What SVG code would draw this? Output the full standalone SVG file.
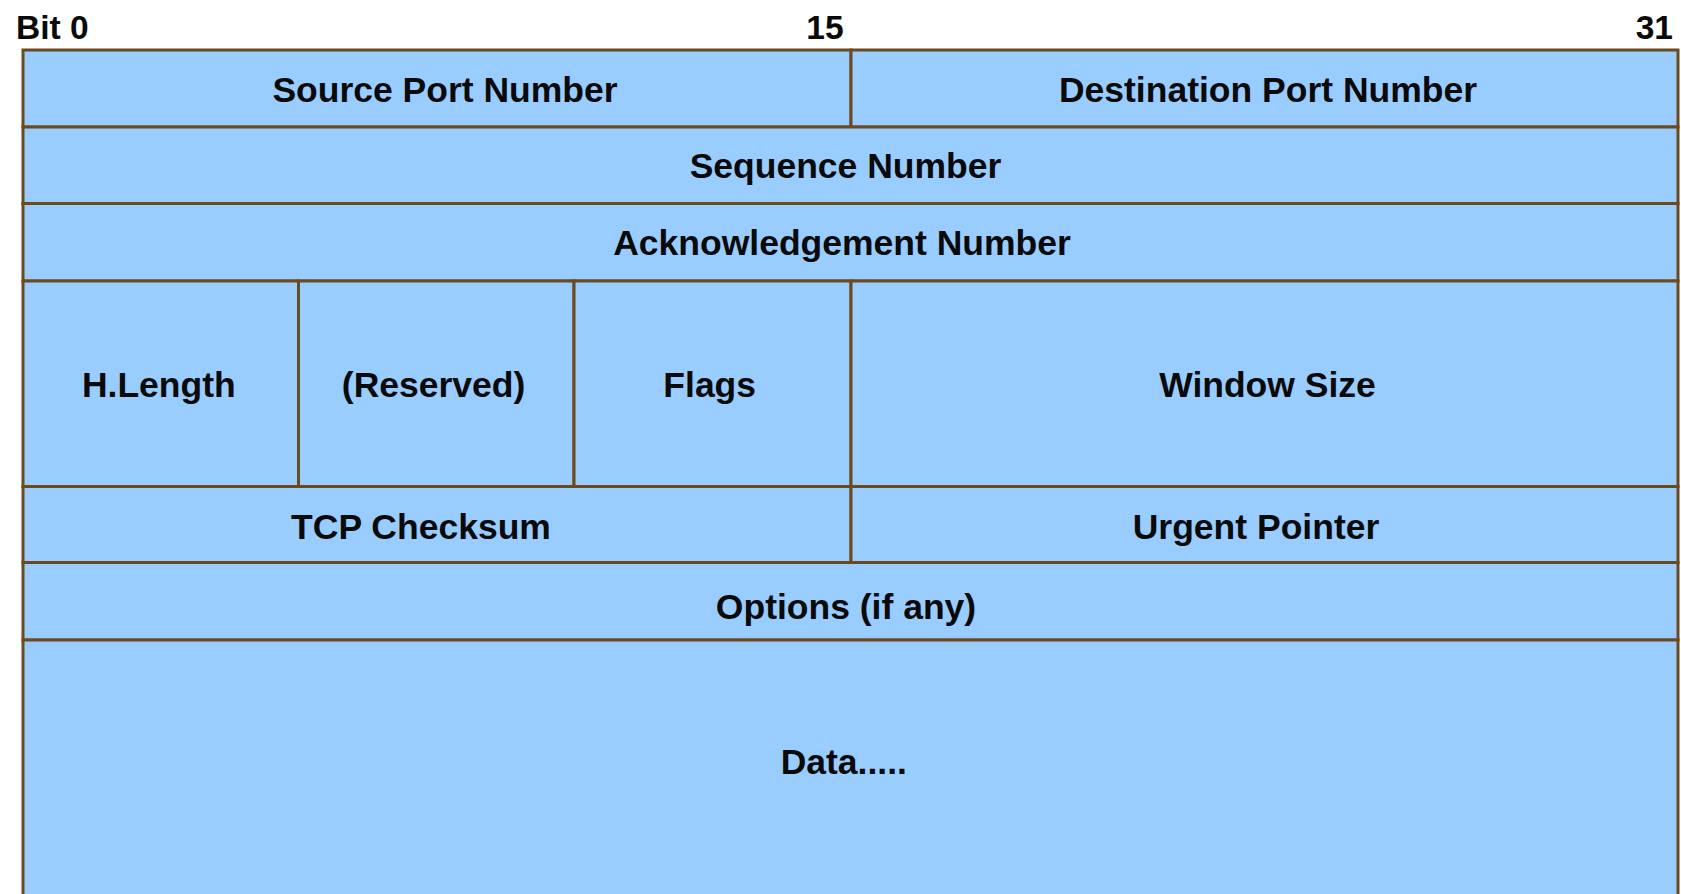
<svg xmlns="http://www.w3.org/2000/svg" width="1681" height="894" viewBox="0 0 1681 894">
  <style>
    .cell { fill: #99ccff; stroke: #6b4a1f; stroke-width: 3; }
    .lbl { font-family: "Liberation Sans", Arial, sans-serif; font-weight: bold; font-size: 35.5px; fill: #0a0a0a; text-anchor: middle; }
    .bit { font-family: "Liberation Sans", Arial, sans-serif; font-weight: bold; font-size: 33.5px; fill: #0a0a0a; }
  </style>
  <rect width="1681" height="894" fill="#ffffff"/>

  <!-- bit ruler -->
  <g id="ruler">
    <text class="bit" x="16" y="39">Bit 0</text>
    <text class="bit" x="825" y="39" text-anchor="middle">15</text>
    <text class="bit" x="1673" y="39" text-anchor="end">31</text>
  </g>

  <!-- TCP header fields -->
  <g id="source-port">
    <rect class="cell" x="23" y="50" width="828" height="77"/>
    <text class="lbl" x="445" y="102">Source Port Number</text>
  </g>
  <g id="destination-port">
    <rect class="cell" x="851" y="50" width="827" height="77"/>
    <text class="lbl" x="1268" y="102">Destination Port Number</text>
  </g>
  <g id="sequence-number">
    <rect class="cell" x="23" y="127" width="1655" height="76.5"/>
    <text class="lbl" x="845.5" y="177.5">Sequence Number</text>
  </g>
  <g id="ack-number">
    <rect class="cell" x="23" y="203.5" width="1655" height="77.5"/>
    <text class="lbl" x="842" y="254.5">Acknowledgement Number</text>
  </g>
  <g id="header-length">
    <rect class="cell" x="23" y="281" width="275.5" height="205.5"/>
    <text class="lbl" x="158.8" y="396.6">H.Length</text>
  </g>
  <g id="reserved">
    <rect class="cell" x="298.5" y="281" width="275.5" height="205.5"/>
    <text class="lbl" x="433.6" y="396.6">(Reserved)</text>
  </g>
  <g id="flags">
    <rect class="cell" x="574" y="281" width="277" height="205.5"/>
    <text class="lbl" x="709.7" y="396.6">Flags</text>
  </g>
  <g id="window-size">
    <rect class="cell" x="851" y="281" width="827" height="205.5"/>
    <text class="lbl" x="1267.5" y="397">Window Size</text>
  </g>
  <g id="checksum">
    <rect class="cell" x="23" y="486.5" width="828" height="76"/>
    <text class="lbl" x="421" y="538.5">TCP Checksum</text>
  </g>
  <g id="urgent-pointer">
    <rect class="cell" x="851" y="486.5" width="827" height="76"/>
    <text class="lbl" x="1256" y="538.5">Urgent Pointer</text>
  </g>
  <g id="options">
    <rect class="cell" x="23" y="562.5" width="1655" height="77.5"/>
    <text class="lbl" x="846" y="619">Options (if any)</text>
  </g>
  <g id="data">
    <rect class="cell" x="23" y="640" width="1655" height="280"/>
    <text class="lbl" x="843.8" y="774">Data.....</text>
  </g>

  <!-- no connectors in this layout -->
  <g id="connectors"/>
</svg>
